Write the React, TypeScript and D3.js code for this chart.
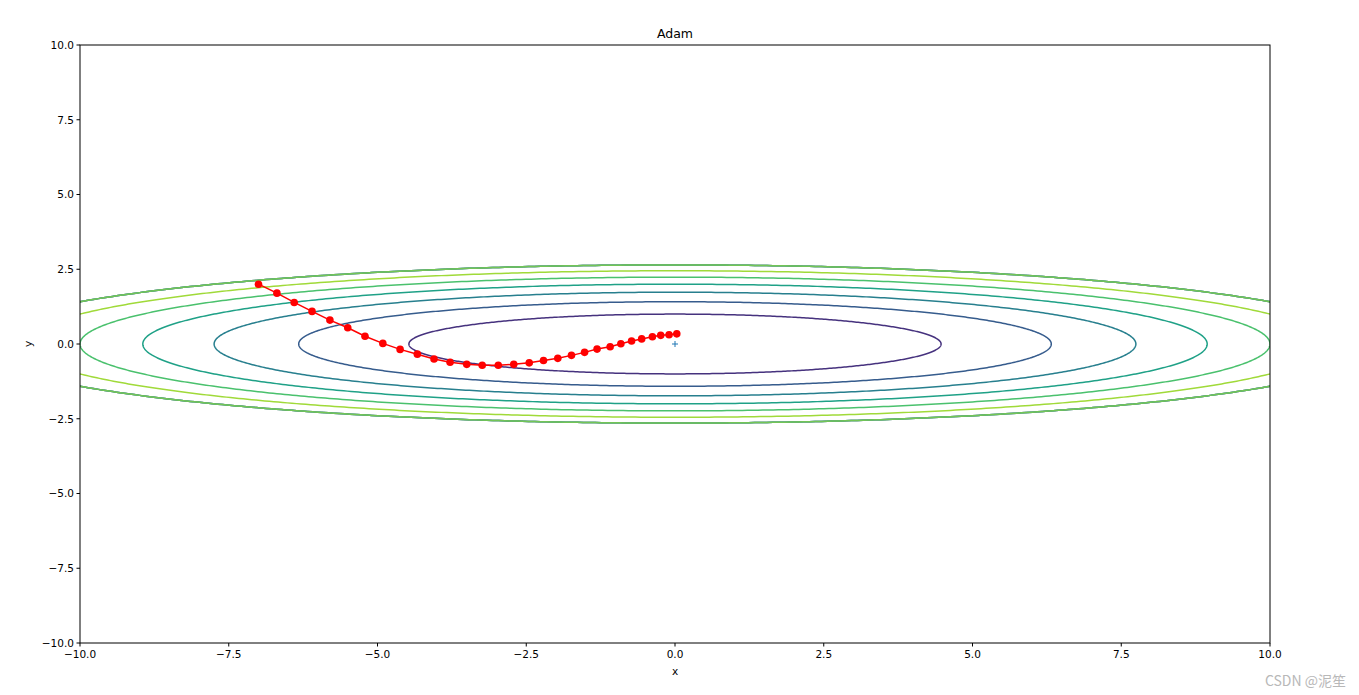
import React from "react";
import * as d3 from "d3";

// Adam optimizer trajectory on f(x, y) = x^2/20 + y^2
const pathX = [-7.0, -6.69, -6.4, -6.1, -5.8, -5.5, -5.21, -4.91, -4.62, -4.33, -4.05, -3.78, -3.5, -3.24, -2.97, -2.71, -2.45, -2.21, -1.97, -1.74, -1.52, -1.31, -1.09, -0.91, -0.73, -0.56, -0.38, -0.24, -0.1, 0.03];
const pathY = [2.0, 1.7, 1.39, 1.09, 0.8, 0.545, 0.26, 0.02, -0.18, -0.34, -0.5, -0.61, -0.68, -0.71, -0.71, -0.68, -0.63, -0.55, -0.48, -0.38, -0.28, -0.17, -0.09, 0.01, 0.1, 0.17, 0.24, 0.29, 0.31, 0.34];

// contour levels of f (Z masked to 0 where Z > 7)
const levels = [1, 2, 3, 4, 5, 6];
const maskLevel = 7;
const ticks = [-10, -7.5, -5, -2.5, 0, 2.5, 5, 7.5, 10];
const title = "Adam";
const xLabel = "x";
const yLabel = "y";
const watermark = "CSDN @泥笙";

const W = 1359, H = 695;
const left = 80, right = 1270, top = 45, bottom = 643;

export default function App() {
  const x = d3.scaleLinear().domain([-10, 10]).range([left, right]);
  const y = d3.scaleLinear().domain([-10, 10]).range([bottom, top]);
  const color = (v: number) => d3.interpolateViridis(v / 7);

  const ellipse = (c: number) => {
    const a = Math.sqrt(20 * c), b = Math.sqrt(c);
    const pts: [number, number][] = d3.range(0, 721).map((i) => {
      const t = (i / 720) * 2 * Math.PI;
      return [a * Math.cos(t), b * Math.sin(t)];
    });
    return d3.line<[number, number]>().x((d) => x(d[0])).y((d) => y(d[1]))(pts) as string;
  };

  const pathPts = pathX.map((v, i) => [v, pathY[i]] as [number, number]);
  const line = d3.line<[number, number]>().x((d) => x(d[0])).y((d) => y(d[1]));
  const font = "DejaVu Sans, sans-serif";

  return (
    <svg width={W} height={H} style={{ position: "absolute", left: 0, top: 0, background: "#fff" }} fontFamily={font}>
      <defs>
        <clipPath id="plotclip">
          <rect x={left} y={top} width={right - left} height={bottom - top} />
        </clipPath>
      </defs>
      <rect x={0} y={0} width={W} height={H} fill="#fff" />
      <g clipPath="url(#plotclip)">
        {levels.map((c) => (
          <path key={"m" + c} d={ellipse(maskLevel)} fill="none" stroke={color(c)} strokeWidth={1.5} opacity={0.55} />
        ))}
        {levels.map((c) => (
          <path key={c} d={ellipse(c)} fill="none" stroke={color(c)} strokeWidth={1.5} />
        ))}
        <path d={line(pathPts) as string} fill="none" stroke="red" strokeWidth={1.5} />
        {pathPts.map((d, i) => (
          <circle key={i} cx={x(d[0])} cy={y(d[1])} r={3.8} fill="red" />
        ))}
        <g stroke="#1f77b4" strokeWidth={1}>
          <line x1={x(0) - 3} x2={x(0) + 3} y1={y(0)} y2={y(0)} />
          <line x1={x(0)} x2={x(0)} y1={y(0) - 3} y2={y(0) + 3} />
        </g>
      </g>
      <rect x={left} y={top} width={right - left} height={bottom - top} fill="none" stroke="#000" strokeWidth={1} />
      {ticks.map((t) => (
        <g key={"x" + t}>
          <line x1={x(t)} x2={x(t)} y1={bottom} y2={bottom + 3.5} stroke="#000" />
          <text x={x(t)} y={bottom + 15} fontSize={10.5} textAnchor="middle" fill="#000">
            {d3.format(".1f")(t).replace("-", "−")}
          </text>
        </g>
      ))}
      {ticks.map((t) => (
        <g key={"y" + t}>
          <line x1={left - 3.5} x2={left} y1={y(t)} y2={y(t)} stroke="#000" />
          <text x={left - 6} y={y(t) + 3.8} fontSize={10.5} textAnchor="end" fill="#000">
            {d3.format(".1f")(t).replace("-", "−")}
          </text>
        </g>
      ))}
      <text x={(left + right) / 2} y={38} fontSize={12.5} textAnchor="middle" fill="#000">{title}</text>
      <text x={(left + right) / 2} y={675} fontSize={10.5} textAnchor="middle" fill="#000">{xLabel}</text>
      <text transform={`translate(32,${y(0)}) rotate(-90)`} fontSize={10.5} textAnchor="middle" fill="#000">{yLabel}</text>
      <text x={1346} y={686} fontSize={14} textAnchor="end" fill="#b8b8b8" fontFamily="Noto Sans CJK SC, sans-serif">{watermark}</text>
    </svg>
  );
}
